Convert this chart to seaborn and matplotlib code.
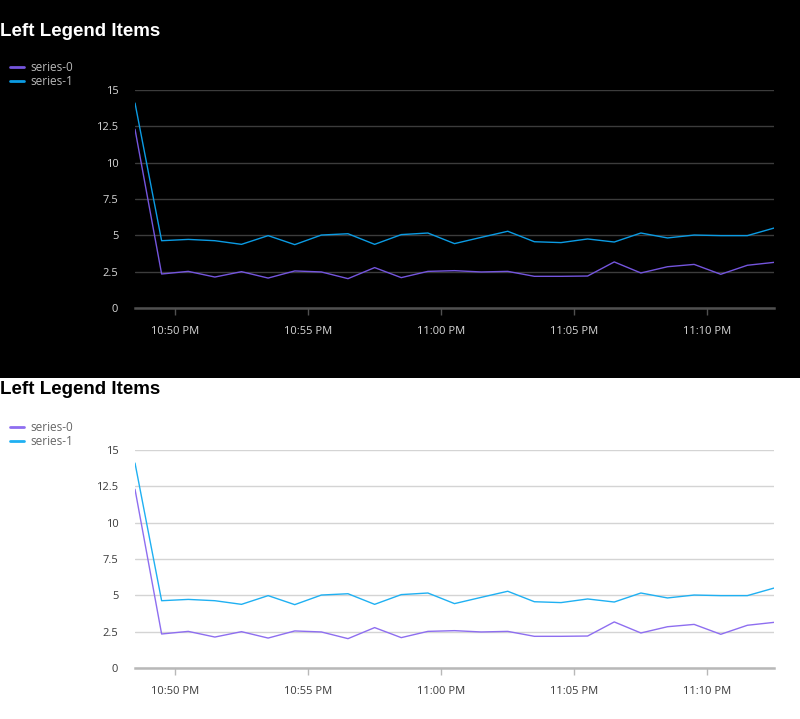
import pandas as pd
import matplotlib
matplotlib.use("Agg")
import matplotlib.pyplot as plt
import matplotlib.dates as mdates
from matplotlib.patches import Rectangle
import seaborn as sns

# sample times (one point a minute)
times = ["22:48:30", "22:49:30", "22:50:30", "22:51:30", "22:52:30", "22:53:30",
         "22:54:30", "22:55:30", "22:56:30", "22:57:30", "22:58:30", "22:59:30",
         "23:00:30", "23:01:30", "23:02:30", "23:03:30", "23:04:30", "23:05:30",
         "23:06:30", "23:07:30", "23:08:30", "23:09:30", "23:10:30", "23:11:30",
         "23:12:30"]
series_0 = [12.3, 2.34, 2.52, 2.13, 2.5, 2.06, 2.55, 2.48, 2.02, 2.78, 2.09, 2.52,
            2.57, 2.48, 2.52, 2.18, 2.18, 2.2, 3.17, 2.41, 2.84, 3.0, 2.32, 2.94, 3.14]
series_1 = [14.1, 4.63, 4.72, 4.63, 4.38, 4.98, 4.36, 5.02, 5.11, 4.38, 5.05, 5.16,
            4.43, 4.86, 5.28, 4.56, 4.5, 4.75, 4.54, 5.16, 4.82, 5.02, 4.98, 4.98, 5.5]
y_ticks = [0, 2.5, 5, 7.5, 10, 12.5, 15]
y_labels = ["0", "2.5", "5", "7.5", "10", "12.5", "15"]
title = "Left Legend Items"

stamp = pd.to_datetime(["2024-01-01 " + t for t in times])
df = pd.concat([
    pd.DataFrame({"time": stamp, "value": series_0, "series": "series-0"}),
    pd.DataFrame({"time": stamp, "value": series_1, "series": "series-1"}),
])

sns.set_theme(style="white")
plt.rcParams['font.family'] = ['Open Sans', 'DejaVu Sans']

W, H = 800, 719
fig = plt.figure(figsize=(W / 100, H / 100), dpi=100)
fig.patch.set_facecolor("white")
fig.patches.append(Rectangle((0, 1 - 378 / H), 1, 378 / H, transform=fig.transFigure,
                             facecolor="black", edgecolor="none", zorder=-10))

themes = [
    # dark version on top, light one below
    dict(top=90, pal=["#7455dd", "#0b9be3"], text="#d8d8d8", grid="#3c3c3c",
         axis="#505050", leg="#b8b8b8", title_c="white", title_y=31),
    dict(top=450, pal=["#8e6ef0", "#1fb0f2"], text="#3a3a3a", grid="#d4d4d4",
         axis="#b8b8b8", leg="#666666", title_c="black", title_y=390),
]

for th in themes:
    ax = fig.add_axes([135 / W, 1 - (th["top"] + 218) / H, 639 / W, 218 / H])
    ax.set_facecolor("none")
    sns.lineplot(data=df, x="time", y="value", hue="series", palette=th["pal"],
                 linewidth=1.0, ax=ax)
    ax.set_xlim(stamp[0], stamp[-1])
    ax.set_ylim(0, 15)
    ax.set_yticks(y_ticks, y_labels)
    ax.xaxis.set_major_locator(mdates.MinuteLocator(byminute=[50, 55, 0, 5, 10]))
    ax.xaxis.set_major_formatter(mdates.DateFormatter("%-I:%M %p"))
    ax.set_xlabel("")
    ax.set_ylabel("")
    ax.grid(axis="y", color=th["grid"], linewidth=1.0)
    ax.set_axisbelow(True)
    for s in ["top", "left", "right"]:
        ax.spines[s].set_visible(False)
    ax.spines["bottom"].set_color(th["axis"])
    ax.spines["bottom"].set_linewidth(1.8)
    ax.tick_params(axis="x", colors=th["text"], labelsize=8, length=5, width=1,
                   color=th["axis"], pad=8, bottom=True)
    ax.tick_params(axis="y", colors=th["text"], labelsize=8, length=0, pad=12)

    fig.text(0, 1 - th["title_y"] / H, title, fontsize=13.5, fontweight="bold",
             color=th["title_c"], family="Liberation Sans", va="center", ha="left")

    leg = ax.legend(loc="upper left", bbox_to_anchor=(4 / W, 1 - (th["top"] - 35) / H),
                    bbox_transform=fig.transFigure, frameon=False, fontsize=8.5,
                    handlelength=1.2, handletextpad=0.5, labelspacing=0.12,
                    borderpad=0)
    for t in leg.get_texts():
        t.set_color(th["leg"])
    for h in leg.get_lines():
        h.set_linewidth(2)

fig.savefig("out.png", dpi=100)
